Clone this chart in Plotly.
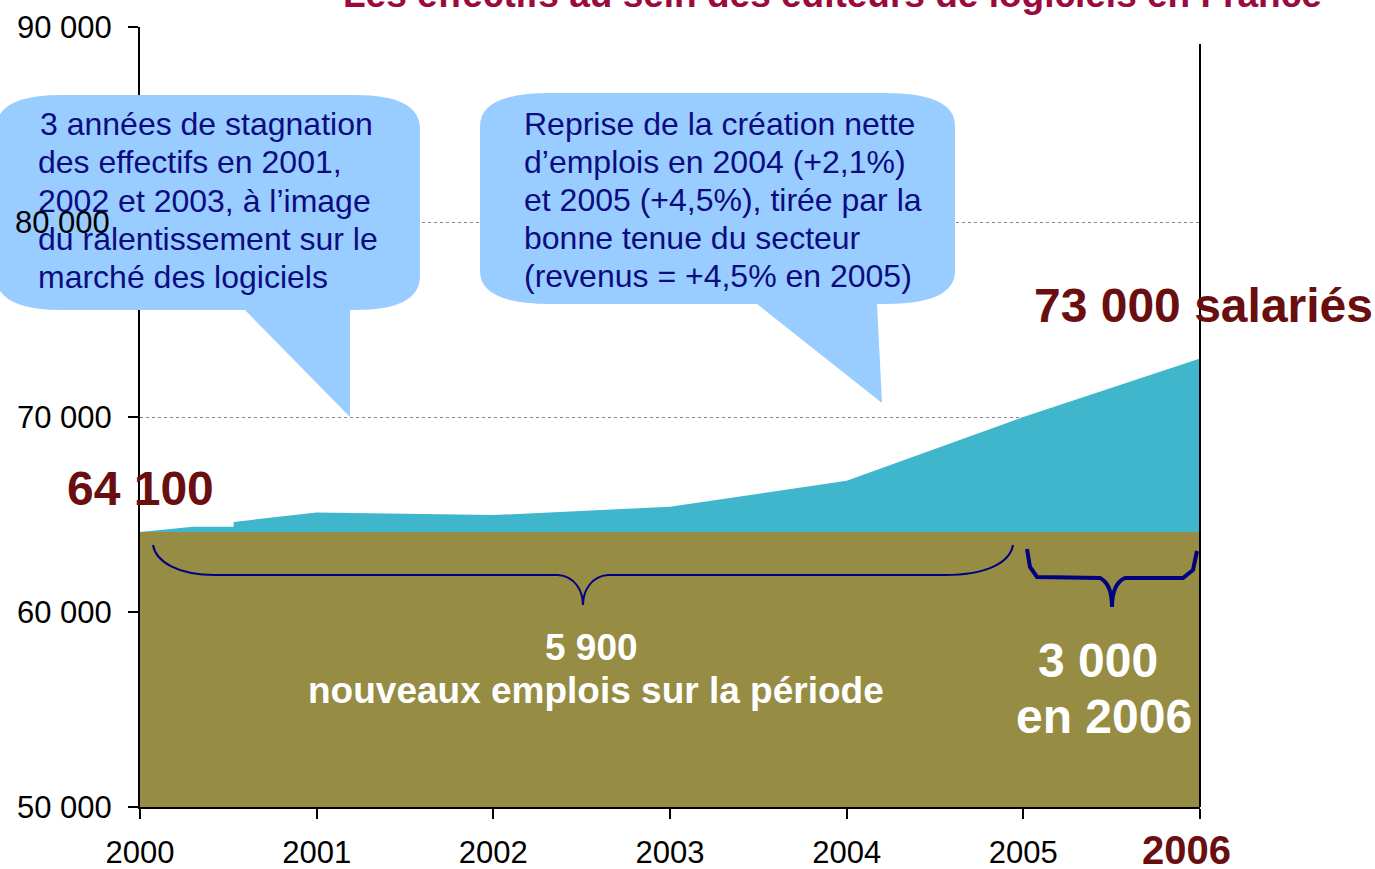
import plotly.graph_objects as go

# ---------------- data ----------------
YEARS = [2000, 2000.3, 2000.53, 2000.53, 2001, 2002, 2003, 2004, 2005, 2006]
EFFECTIFS = [64100, 64370, 64370, 64620, 65100, 64970, 65400, 66730, 70000, 73000]
BASE_2000 = 64100

X_TICKS = [2000, 2001, 2002, 2003, 2004, 2005, 2006]
X_TICK_LABELS = ["2000", "2001", "2002", "2003", "2004", "2005", ""]
Y_TICKS = [50000, 60000, 70000, 80000, 90000]
Y_TICK_LABELS = ["50 000", "60 000", "70 000", "", "90 000"]

TITLE = "Les effectifs au sein des éditeurs de logiciels en France"
CALLOUT_1 = ["3 années de stagnation", "des effectifs en 2001,", "2002 et 2003, à l’image",
             "du ralentissement sur le", "marché des logiciels"]
CALLOUT_2 = ["Reprise de la création nette", "d’emplois en 2004 (+2,1%)",
             "et 2005 (+4,5%), tirée par la", "bonne tenue du secteur",
             "(revenus = +4,5% en 2005)"]

# ---------------- style ----------------
W, H = 1375, 869
L, R, T, B = 140, 1200, 27, 807
FONT = "Liberation Sans, Arial, sans-serif"
OLIVE = "#968C43"
TEAL = "#40B6CD"
BUBBLE = "#99CCFF"
NAVY = "#0C0C80"
DARKRED = "#6A0F0F"
CRIMSON = "#9B0A3C"


def px(x):
    return (x - L) / (R - L)


def py(y):
    return (B - y) / (B - T)


def path(cmds):
    out = []
    for c in cmds:
        if isinstance(c, str):
            out.append(c)
        else:
            out.append(f"{px(c[0]):.5f},{py(c[1]):.5f}")
    return " ".join(out)


def callout(l, t, r, b, rx, ry, tl, tr, tip):
    return path([
        "M", (l + rx, t), "L", (r - rx, t), "Q", (r, t), (r, t + ry),
        "L", (r, b - ry), "Q", (r, b), (r - rx, b), "L", (tr, b), "L", tip,
        "L", (tl, b), "L", (l + rx, b), "Q", (l, b), (l, b - ry),
        "L", (l, t + ry), "Q", (l, t), (l + rx, t), "Z"])


fig = go.Figure()
fig.add_trace(go.Scatter(x=YEARS, y=EFFECTIFS, mode="none", fill="tozeroy",
                         fillcolor=TEAL, showlegend=False, hoverinfo="skip"))
fig.add_trace(go.Scatter(x=[YEARS[0], YEARS[-1]], y=[BASE_2000, BASE_2000], mode="none",
                         fill="tozeroy", fillcolor=OLIVE, showlegend=False, hoverinfo="skip"))

shapes = []
# callouts
shapes.append(dict(type="path", xref="paper", yref="paper", layer="above",
                   path=callout(-4, 95, 420, 310, 65, 34, 245, 350, (350, 417)),
                   fillcolor=BUBBLE, line=dict(width=0)))
shapes.append(dict(type="path", xref="paper", yref="paper", layer="above",
                   path=callout(480, 93, 955, 304, 70, 33, 757, 877, (882, 403)),
                   fillcolor=BUBBLE, line=dict(width=0)))
# braces
shapes.append(dict(type="path", xref="paper", yref="paper", layer="above",
                   path=path(["M", (153, 545), "C", (156, 562), (178, 575), (215, 575),
                              "L", (558, 575), "C", (574, 576), (583, 590), (583, 605),
                              "C", (583, 590), (592, 576), (608, 575),
                              "L", (945, 575), "C", (988, 575), (1010, 562), (1013, 545)]),
                   line=dict(color="#000080", width=2)))
shapes.append(dict(type="path", xref="paper", yref="paper", layer="above",
                   path=path(["M", (1027, 549), "L", (1030, 567), "L", (1037, 577),
                              "L", (1100, 578), "C", (1108, 582), (1112, 592), (1112, 607),
                              "C", (1112, 592), (1116, 582), (1125, 578),
                              "L", (1183, 578), "L", (1193, 570), "L", (1197, 551)]),
                   line=dict(color="#000080", width=4)))
# vertical line at 2006
shapes.append(dict(type="line", xref="paper", yref="paper", layer="above",
                   x0=1, x1=1, y0=0, y1=py(44), line=dict(color="black", width=2)))

ann = []


def text(x, y, s, size, color, bold=False, anchor="center"):
    ann.append(dict(x=px(x), y=py(y), xref="paper", yref="paper", showarrow=False,
                    text=f"<b>{s}</b>" if bold else s, xanchor=anchor, yanchor="middle",
                    font=dict(family=FONT, size=size, color=color)))


text(832, -5, TITLE, 37, CRIMSON, bold=True)
for i, s in enumerate(CALLOUT_1):
    text(36 if i else 38, 124 + i * 38.3, s, 32, NAVY, anchor="left")
for i, s in enumerate(CALLOUT_2):
    text(522, 124 + i * 38, s, 32, NAVY, anchor="left")
text(112, 222, "80 000", 31, "black", anchor="right")
text(140, 488, "64 100", 48, DARKRED, bold=True)
text(1203, 306, "73 000 salariés", 48, DARKRED, bold=True)
text(591, 647, "5 900", 37, "white", bold=True)
text(596, 690, "nouveaux emplois sur la période", 37, "white", bold=True)
text(1098, 660, "3 000", 48, "white", bold=True)
text(1104, 716, "en 2006", 48, "white", bold=True)
text(1186, 850, "2006", 40, DARKRED, bold=True)

fig.update_layout(
    width=W, height=H,
    margin=dict(l=L, r=W - R, t=T, b=H - B, pad=0, autoexpand=False),
    paper_bgcolor="white", plot_bgcolor="white",
    font=dict(family=FONT, size=31, color="black"),
    shapes=shapes, annotations=ann, showlegend=False,
    xaxis=dict(range=[2000, 2006], tickvals=X_TICKS, ticktext=X_TICK_LABELS,
               showline=True, linecolor="black", linewidth=2, ticks="outside",
               ticklen=10, tickwidth=2, tickcolor="black", showgrid=False,
               zeroline=False, ticklabelstandoff=7, automargin=False,
               tickfont=dict(family=FONT, size=31, color="black")),
    yaxis=dict(range=[50000, 90000], tickvals=Y_TICKS, ticktext=Y_TICK_LABELS,
               showline=True, linecolor="black", linewidth=2, ticks="outside",
               ticklen=10, tickwidth=2, tickcolor="black", showgrid=True,
               gridcolor="#888888", griddash="dot", gridwidth=1, zeroline=False,
               ticklabelstandoff=10, automargin=False,
               tickfont=dict(family=FONT, size=31, color="black")),
)

fig.write_html("out.html", config={"displayModeBar": False},
               post_script="document.body.style.margin='0';")
